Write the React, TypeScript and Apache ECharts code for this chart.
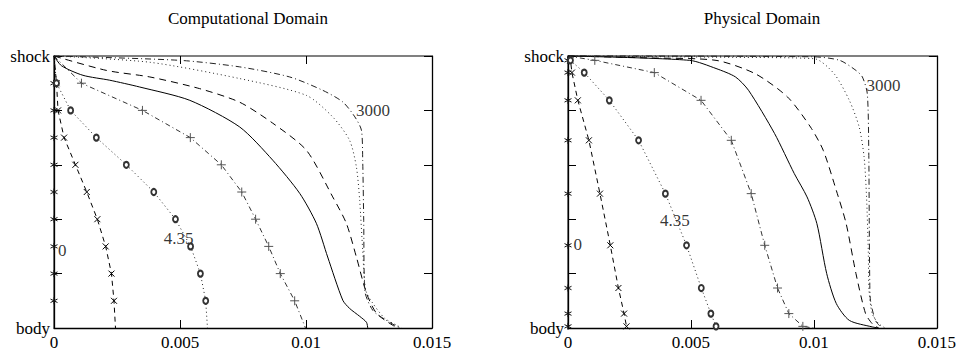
import React, { useEffect, useRef } from "react";
import * as echarts from "echarts";

// ---- grid (eta) levels, computational and physical ----
const etaComp = [1, 0.9, 0.8, 0.7, 0.6, 0.5, 0.4, 0.3, 0.2, 0.1, 0];
const etaPhys = [1, 0.984, 0.939, 0.837, 0.69, 0.494, 0.304, 0.147, 0.053, 0.006, 0];

// ---- marker curves: x value at each grid level ----
const starX = [0, 0, 0, 0, 0, 0, 0, 0, 0, 0, 0];
const crossX = [0, 0.0001, 0.00016, 0.0004, 0.00085, 0.0013, 0.00172, 0.00205, 0.00228, 0.00238, 0.00244];
const circleX = [0, 0.0001, 0.00066, 0.00168, 0.00287, 0.00396, 0.00482, 0.00542, 0.00581, 0.00602, 0.00609];
const plusX = [0, 0.00109, 0.00351, 0.00541, 0.00664, 0.00745, 0.008, 0.00852, 0.00898, 0.00955, 0.00998];

// ---- continuous curves, computational domain ----
const compSolidX = [0, 0.0003, 0.00115, 0.00221, 0.0034, 0.00539, 0.00737, 0.00868, 0.00975, 0.01041, 0.01086, 0.01146, 0.01173, 0.01213, 0.0124, 0.01245];
const compSolidY = [1, 0.964, 0.929, 0.911, 0.886, 0.837, 0.739, 0.617, 0.495, 0.385, 0.261, 0.102, 0.072, 0.043, 0.021, 0];
const compDashX = [0, 0.00208, 0.0038, 0.00578, 0.00737, 0.00868, 0.01002, 0.01106, 0.0116, 0.012, 0.0124, 0.0128, 0.01344, 0.01372];
const compDashY = [1, 0.947, 0.923, 0.88, 0.83, 0.753, 0.653, 0.482, 0.385, 0.261, 0.128, 0.054, 0.01, 0];
const compDotX = [0, 0.0038, 0.00737, 0.01002, 0.01106, 0.01173, 0.012, 0.01213, 0.01225, 0.01237, 0.01265, 0.01312, 0.0136, 0.0138];
const compDotY = [1, 0.977, 0.917, 0.855, 0.776, 0.69, 0.592, 0.47, 0.286, 0.139, 0.091, 0.036, 0.01, 0];
const compDashDotX = [0, 0.005, 0.00737, 0.00935, 0.01066, 0.01146, 0.01194, 0.0122, 0.01225, 0.01229, 0.01233, 0.01265, 0.01319, 0.01372];
const compDashDotY = [1, 0.984, 0.96, 0.923, 0.874, 0.831, 0.776, 0.727, 0.617, 0.396, 0.139, 0.065, 0.028, 0];

// ---- continuous curves, physical domain ----
const physSolidX = [0, 0.00495, 0.00602, 0.00681, 0.00734, 0.0084, 0.0092, 0.00972, 0.01012, 0.01052, 0.01091, 0.01144, 0.01237, 0.01263];
const physSolidY = [1, 0.984, 0.954, 0.923, 0.874, 0.715, 0.568, 0.482, 0.384, 0.2, 0.09, 0.028, 0.004, 0];
const physDashX = [0, 0.00324, 0.00602, 0.00761, 0.00893, 0.00986, 0.01038, 0.01091, 0.01131, 0.01171, 0.0121, 0.01237, 0.01263];
const physDashY = [1, 0.993, 0.984, 0.935, 0.849, 0.739, 0.653, 0.506, 0.384, 0.2, 0.053, 0.016, 0];
const physDotX = [0, 0.00681, 0.01002, 0.01082, 0.01144, 0.01184, 0.01204, 0.01214, 0.01221, 0.01224, 0.01237, 0.01263, 0.0129];
const physDotY = [1, 0.995, 0.99, 0.935, 0.837, 0.739, 0.629, 0.482, 0.286, 0.139, 0.053, 0.016, 0];
const physDashDotX = [0, 0.01, 0.01105, 0.01171, 0.01197, 0.01217, 0.01223, 0.01225, 0.01227, 0.0123, 0.0125, 0.01276];
const physDashDotY = [1, 0.997, 0.984, 0.947, 0.923, 0.862, 0.653, 0.396, 0.175, 0.102, 0.028, 0];

// ---- curve labels ----
const labelTexts = ["0", "4.35", "3000"];
const compLabelX = [0.00033, 0.00495, 0.01266];
const compLabelY = [0.286, 0.33, 0.798];
const physLabelX = [0.0004, 0.00435, 0.01283];
const physLabelY = [0.307, 0.396, 0.892];

const titles = ["Computational Domain", "Physical Domain"];
const xTicks = { min: 0, max: 0.015, interval: 0.005 };

const FONT = "'Liberation Serif', 'Times New Roman', serif";

const SYM_STAR = "path://M5,0V10M0.7,2.5L9.3,7.5M9.3,2.5L0.7,7.5";
const SYM_CROSS = "path://M0,0L10,10M10,0L0,10";
const SYM_PLUS = "path://M0,5H10M5,0V10";

function zipXY(xs: number[], ys: number[]) {
  return xs.map((x, i) => [x, ys[i]]);
}

function markerData(xs: number[], eta: number[]) {
  return xs.map((x, i) => {
    const interior = i > 0 && i < xs.length - 1;
    return interior ? { value: [x, eta[i]] } : { value: [x, eta[i]], symbol: "none" };
  });
}

function buildSeries(gi: number) {
  const eta = gi === 0 ? etaComp : etaPhys;
  const solid = gi === 0 ? zipXY(compSolidX, compSolidY) : zipXY(physSolidX, physSolidY);
  const dash = gi === 0 ? zipXY(compDashX, compDashY) : zipXY(physDashX, physDashY);
  const dot = gi === 0 ? zipXY(compDotX, compDotY) : zipXY(physDotX, physDotY);
  const dashDot = gi === 0 ? zipXY(compDashDotX, compDashDotY) : zipXY(physDashDotX, physDashDotY);
  const lx = gi === 0 ? compLabelX : physLabelX;
  const ly = gi === 0 ? compLabelY : physLabelY;
  const base = { type: "line", xAxisIndex: gi * 2, yAxisIndex: gi * 2, clip: false, silent: true };
  const markerStyle = (c: string) => ({ color: c, borderColor: c, borderWidth: 1 });
  return [
    {
      ...base,
      name: "t0",
      data: markerData(starX, eta),
      symbol: SYM_STAR,
      symbolSize: 7,
      itemStyle: markerStyle("#111"),
      lineStyle: { color: "#000", width: 1 },
    },
    {
      ...base,
      name: "cross",
      data: markerData(crossX, eta),
      symbol: SYM_CROSS,
      symbolSize: 6,
      itemStyle: markerStyle("#000"),
      lineStyle: { color: "#000", width: 1, type: [5, 4] },
    },
    {
      ...base,
      name: "4.35",
      data: markerData(circleX, eta),
      symbol: "emptyCircle",
      symbolSize: [5, 6],
      itemStyle: { color: "#333", borderColor: "#333", borderWidth: 0.8 },
      lineStyle: { color: "#222", width: 1, type: [1, 3] },
    },
    {
      ...base,
      name: "plus",
      data: markerData(plusX, eta),
      symbol: SYM_PLUS,
      symbolSize: 9,
      itemStyle: markerStyle("#555"),
      lineStyle: { color: "#333", width: 1, type: [5, 3, 1, 3] },
    },
    {
      ...base,
      name: "solid",
      data: solid,
      symbol: "none",
      smooth: 0.25,
      lineStyle: { color: "#000", width: 1 },
    },
    {
      ...base,
      name: "dashed",
      data: dash,
      symbol: "none",
      smooth: 0.25,
      lineStyle: { color: "#000", width: 1, type: [7, 5] },
    },
    {
      ...base,
      name: "dotted",
      data: dot,
      symbol: "none",
      smooth: 0.25,
      lineStyle: { color: "#222", width: 1, type: [1, 3] },
    },
    {
      ...base,
      name: "3000",
      data: dashDot,
      symbol: "none",
      smooth: 0.25,
      lineStyle: { color: "#222", width: 1, type: [6, 3, 1, 3] },
    },
    {
      type: "scatter",
      xAxisIndex: gi * 2,
      yAxisIndex: gi * 2,
      silent: true,
      symbolSize: 0,
      data: labelTexts.map((t, i) => ({ name: t, value: [lx[i], ly[i]] })),
      label: {
        show: true,
        position: "inside",
        formatter: (p: any) => p.name,
        fontFamily: FONT,
        fontSize: 17,
        color: "#000",
        textBorderWidth: 0,
      },
    },
  ];
}

function buildAxes(gi: number) {
  const tick = { show: true, inside: true, length: 8, lineStyle: { color: "#000", width: 1 } };
  const xs = [
    {
      type: "value",
      gridIndex: gi,
      position: "bottom",
      ...xTicks,
      axisLine: { show: true, lineStyle: { color: "#000", width: 1.3 } },
      axisTick: tick,
      splitLine: { show: false },
      axisLabel: {
        show: true,
        margin: 6,
        fontFamily: FONT,
        fontSize: 17,
        color: "#000",
        showMinLabel: true,
        showMaxLabel: true,
        formatter: (v: number) => (v === 0 ? "0" : String(+v.toFixed(3))),
      },
    },
    {
      type: "value",
      gridIndex: gi,
      position: "top",
      ...xTicks,
      axisLine: { show: true, onZero: false, lineStyle: { color: "#808080", width: 2 } },
      axisTick: tick,
      splitLine: { show: false },
      axisLabel: { show: false },
    },
  ];
  const ys = [
    {
      type: "value",
      gridIndex: gi,
      position: "left",
      min: 0,
      max: 1,
      interval: 0.2,
      axisLine: { show: true, lineStyle: { color: "#000", width: 1.3 } },
      axisTick: tick,
      splitLine: { show: false },
      axisLabel: {
        show: true,
        margin: 4,
        fontFamily: FONT,
        fontSize: 17,
        color: "#000",
        showMinLabel: true,
        showMaxLabel: true,
        formatter: (v: number) => (Math.abs(v - 1) < 1e-6 ? "shock" : Math.abs(v) < 1e-6 ? "body" : ""),
      },
    },
    {
      type: "value",
      gridIndex: gi,
      position: "right",
      min: 0,
      max: 1,
      interval: 0.2,
      axisLine: { show: true, onZero: false, lineStyle: { color: "#000", width: 1.3 } },
      axisTick: tick,
      splitLine: { show: false },
      axisLabel: { show: false },
    },
  ];
  return { xs, ys };
}

export default function App() {
  const ref = useRef<HTMLDivElement>(null);
  useEffect(() => {
    if (!ref.current) return;
    const chart = echarts.init(ref.current, null, { renderer: "svg" });
    const a0 = buildAxes(0);
    const a1 = buildAxes(1);
    chart.setOption({
      animation: false,
      backgroundColor: "#fff",
      title: [
        {
          text: titles[0],
          left: 243,
          top: 5,
          textAlign: "center",
          textStyle: { fontFamily: FONT, fontSize: 17, fontWeight: "normal", color: "#000" },
        },
        {
          text: titles[1],
          left: 757,
          top: 5,
          textAlign: "center",
          textStyle: { fontFamily: FONT, fontSize: 17, fontWeight: "normal", color: "#000" },
        },
      ],
      grid: [
        { left: 54, top: 56, width: 378, height: 272 },
        { left: 568, top: 56, width: 378, height: 272 },
      ],
      xAxis: [...a0.xs, ...a1.xs],
      yAxis: [...a0.ys, ...a1.ys],
      series: [...buildSeries(0), ...buildSeries(1)],
    });
    return () => chart.dispose();
  }, []);
  return (
    <div
      ref={ref}
      style={{ position: "absolute", left: 0, top: 0, width: 959, height: 358 }}
    />
  );
}
